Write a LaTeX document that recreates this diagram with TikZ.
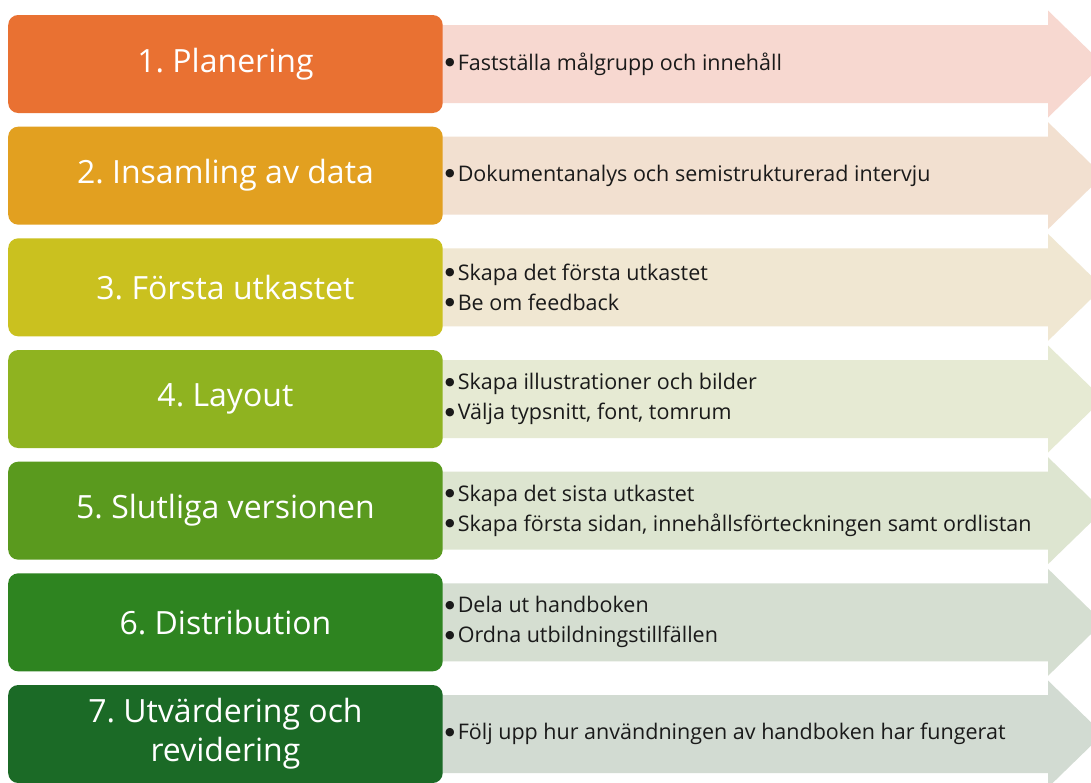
\documentclass[tikz,border=0pt]{standalone}
\usepackage{fontspec}
\setmainfont{Open Sans}
\newfontfamily\symfont{DejaVu Sans}
\frenchspacing
\definecolor{boxA}{HTML}{E97132}
\definecolor{boxB}{HTML}{E2A020}
\definecolor{boxC}{HTML}{CAC11F}
\definecolor{boxD}{HTML}{8FB320}
\definecolor{boxE}{HTML}{5A9A1E}
\definecolor{boxF}{HTML}{2E8420}
\definecolor{boxG}{HTML}{1B6A26}
\definecolor{bandA}{HTML}{F7D8D0}
\definecolor{bandB}{HTML}{F2E0D0}
\definecolor{bandC}{HTML}{F0E7D2}
\definecolor{bandD}{HTML}{E6EAD3}
\definecolor{bandE}{HTML}{DDE5D0}
\definecolor{bandF}{HTML}{D5DED1}
\definecolor{bandG}{HTML}{D2DBD2}
\definecolor{itemtext}{HTML}{1A1A1A}

% one row: #1 index, #2 box colour, #3 band colour, #4 title, #5 items
\newcommand\flowrow[5]{%
  \pgfmathsetmacro\cy{64+111.667*(#1-1)}
  \fill[#3] (438,\cy-39) -- (1048,\cy-39) -- (1048,\cy-53.5) -- (1103,\cy)
    -- (1048,\cy+53.5) -- (1048,\cy+39) -- (438,\cy+39) -- cycle;
  \node[stepbox, fill=#2] (box#1) at (8,\cy) {#4};
  \node[items] (items#1) at (445,\cy) {#5};
}
% bullet item: solid round dot, then the text
\newcommand\itm[1]{\raisebox{4.5pt}{\symfont\fontsize{11}{11}\selectfont ●}\hspace{3pt}#1}

\begin{document}
\begin{tikzpicture}[x=1pt, y=-1pt,
  stepbox/.style={rounded corners=10pt, minimum width=434.5pt, minimum height=98pt,
    text=white, font=\fontsize{32}{39}\selectfont, align=center, inner sep=0pt,
    anchor=west},
  items/.style={anchor=west, align=left, inner sep=0pt, text=itemtext,
    font=\fontsize{21.5}{30}\selectfont}]
\useasboundingbox (0,0) rectangle (1091,782);
\clip (0,0) rectangle (1091,782);
\fill[white] (0,0) rectangle (1091,782);

\flowrow{1}{boxA}{bandA}{1. Planering}{\itm{Fastställa målgrupp och innehåll}}
\flowrow{2}{boxB}{bandB}{2. Insamling av data}{\itm{Dokumentanalys och semistrukturerad intervju}}
\flowrow{3}{boxC}{bandC}{3. Första utkastet}{\itm{Skapa det första utkastet}\\\itm{Be om feedback}}
\flowrow{4}{boxD}{bandD}{4. Layout}{\itm{Skapa illustrationer och bilder}\\\itm{Välja typsnitt, font, tomrum}}
\flowrow{5}{boxE}{bandE}{5. Slutliga versionen}{\itm{Skapa det sista utkastet}\\\itm{Skapa första sidan, innehållsförteckningen samt ordlistan}}
\flowrow{6}{boxF}{bandF}{6. Distribution}{\itm{Dela ut handboken}\\\itm{Ordna utbildningstillfällen}}
\flowrow{7}{boxG}{bandG}{7. Utvärdering och\\revidering}{\itm{Följ upp hur användningen av handboken har fungerat}}
\end{tikzpicture}
\end{document}
